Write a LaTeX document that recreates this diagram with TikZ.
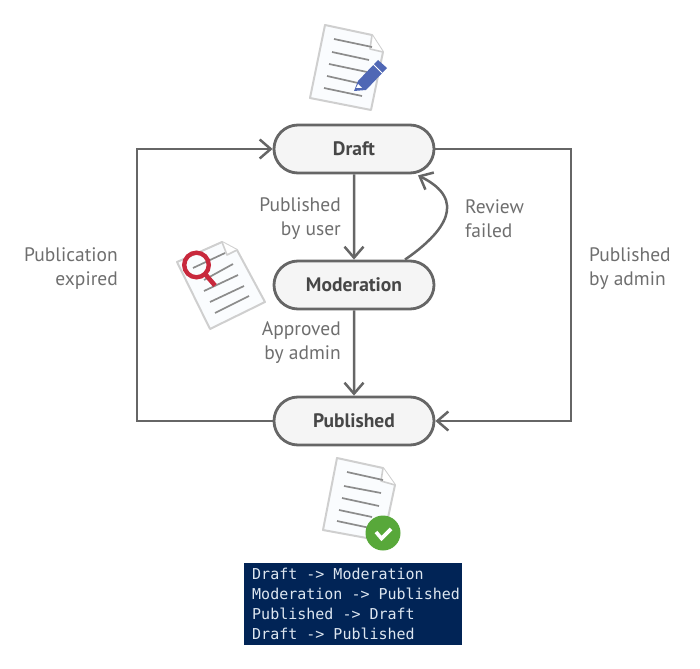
\documentclass[tikz,border=0pt]{standalone}
\usepackage{fontspec}
\setmainfont{PT Sans}
\newfontfamily\codefont{DejaVu Sans Mono}
\usetikzlibrary{arrows.meta,shapes.misc,calc}
\definecolor{ink}{HTML}{666666}
\definecolor{labelink}{HTML}{6E6E6E}
\definecolor{docedge}{HTML}{CFCFCF}
\definecolor{docfill}{HTML}{FAFCFE}
\definecolor{docline}{HTML}{8C8C8C}
\definecolor{codebg}{HTML}{012456}
\definecolor{codeink}{HTML}{DDE6F0}
\definecolor{pencil}{HTML}{4F67B5}
\definecolor{lens}{HTML}{C8283C}
\definecolor{okgreen}{HTML}{58A83A}
\tikzset{
  state/.style={rounded rectangle,draw=ink,line width=2.8pt,fill=black!4,minimum width=160pt,minimum height=48pt,
    inner sep=0pt,font=\fontsize{19.5}{22}\selectfont\bfseries,text=black!72},
  flow/.style={draw=ink,line width=2.5pt,-{Straight Barb[length=11pt,width=19pt,line width=2.5pt]}},
  tag/.style={text=labelink,font=\fontsize{19.5}{24.5}\selectfont,inner sep=0pt},
  sheet/.style={draw=docedge,line width=2pt,fill=docfill,line join=round},
  fold/.style={draw=docedge,line width=1.6pt,fill=white,line join=round},
  textline/.style={draw=docline,line width=1.7pt},
  codeline/.style={text=codeink,font=\codefont\fontsize{15}{20}\selectfont,inner sep=0pt,anchor=west}
}
\begin{document}
\begin{tikzpicture}[x=1pt,y=-1pt]
\useasboundingbox (0,0) rectangle (700,668);
% draft document icon
\draw[sheet] (325,25) -- (372,35) -- (383,52) -- (371,110) -- (310,98) -- cycle;
\draw[fold] (372,35) -- (370,49) -- (383,52);
\foreach \a/\b/\c/\d in {334/39/372/47,332/52/369/60,329/64/367/72,327/76/358/83,324/88/362/96}
  \draw[textline] (\a,\b) -- (\c,\d);
\fill[pencil,line join=round] (354,91) -- (358,81) -- (378,60) -- (387,68) -- (366,90) -- cycle;
\draw[white,line width=1pt] (373,64) -- (382,73);
\fill[white] (356,88) -- (358,84) -- (362,88) -- cycle;
% moderation document icon
\draw[sheet] (177,262) -- (222,242) -- (237,250) -- (265,302) -- (210,329) -- cycle;
\draw[fold] (222,242) -- (227,255) -- (237,250);
\foreach \a/\b/\c/\d in {193/268/225/253,204/280/233/264,204/291/238/275,210/302/244/286,215/313/249/296}
  \draw[textline] (\a,\b) -- (\c,\d);
\draw[lens,line width=4.4pt] (196.5,265) circle (12.3pt);
\draw[lens,line width=4.6pt] (205.5,274.5) -- (215,285.5);
% published document icon
\draw[sheet] (337,458) -- (383,468) -- (395,485) -- (383,541) -- (323,530) -- cycle;
\draw[fold] (383,468) -- (381,481) -- (395,485);
\foreach \a/\b/\c/\d in {347/472/383/480,344/486/381/493,342/498/379/506,339/510/372/517,337/521/370/528}
  \draw[textline] (\a,\b) -- (\c,\d);
\fill[okgreen] (383,533) circle (17.5pt);
\draw[white,line width=3.6pt] (376,532) -- (381.5,538.5) -- (391,529);
% states
\node[state] (draft) at (354,149) {Draft};
\node[state] (moderation) at (354,285) {Moderation};
\node[state] (published) at (354,421) {Published};
% connectors
\coordinate (rightrail) at (571,285);
\coordinate (leftrail) at (137,285);
\draw[flow] (draft) -- (moderation);
\draw[flow] (moderation) -- (published);
\draw[flow] (draft.east) -| (rightrail) |- (published.east);
\draw[flow] (published.west) -| (leftrail) |- (draft.west);
\draw[flow] ($(moderation.north)+(51,0)$) .. controls (445,232) and (468,200) .. ($(draft.south)+(64,1)$);
% labels
\node[tag,align=right,anchor=east] (l1) at (341,218.5) {Published\\by user};
\node[tag,align=left,anchor=west] (l2) at (465,218.5) {Review\\failed};
\node[tag,align=right,anchor=east] (l3) at (118,268.5) {Publication\\expired};
\node[tag,align=left,anchor=west] (l4) at (589,268.5) {Published\\by admin};
\node[tag,align=right,anchor=east] (l5) at (341,342.5) {Approved\\by admin};
% console
\fill[codebg] (244,563) rectangle (462,645);
\node[codeline] (c1) at (252,574) {Draft -> Moderation};
\node[codeline] (c2) at (252,594) {Moderation -> Published};
\node[codeline] (c3) at (252,614) {Published -> Draft};
\node[codeline] (c4) at (252,634) {Draft -> Published};
\end{tikzpicture}
\end{document}
